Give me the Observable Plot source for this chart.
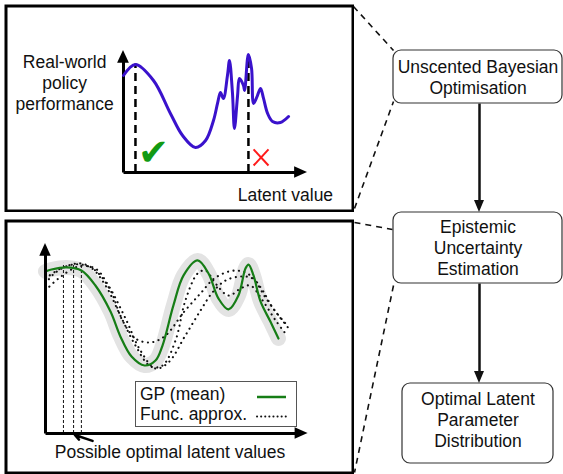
<!DOCTYPE html>
<html><head><meta charset="utf-8">
<script src="https://cdn.jsdelivr.net/npm/d3@7"></script>
<script src="https://cdn.jsdelivr.net/npm/@observablehq/plot@0.6"></script>
<style>
html,body{margin:0;padding:0;background:#fff;}
#root{position:relative;width:563px;height:474px;overflow:hidden;font-family:"Liberation Sans",Arial,sans-serif;}
.layer{position:absolute;}
.layer svg{display:block;}
#legend{position:absolute;left:135px;top:381px;width:162px;height:46px;box-sizing:border-box;border:1.5px solid #555;background:#fff;font-size:17.5px;line-height:20px;padding:1.5px 0 0 4px;color:#111;}
#legend svg{position:absolute;left:0;top:0;}
</style></head><body><div id="root"></div>
<script>
// ---------- data ----------
// top panel: real-world policy performance vs latent value
const topLatent = [0,6.5,16.3,25.5,32.1,39.1,44.6,48.9,51.1,52.7,54.3,56.5,57.6,59.2,60.3,62,63,65.2,65.8,67.4,67.9,69.6,70.7,72.8,74.5,76.1,78.3,81,85.3,89.7];
const topPerf   = [79.5,88.5,75.4,48.4,30.3,20.5,26.2,42.6,56.6,65.6,60.7,79.5,91.8,65.6,36.1,63.1,77,71.3,67.2,93.4,96.7,85.2,56.6,63.1,68.9,60.7,48.4,41.8,41,45.9];
const topCandidates = [6.5, 67.9];
const topCandidateHeights = [89, 94];
const topMarks = ["✔", "✕"];

// bottom panel: GP mean and function approximations
const gpLatent = [0,2.3,8.1,13.8,19.2,25,28.8,33.1,38.1,42.3,45,49.2,53.1,58.5,62.7,66.5,70.4,74.2,76.9,78.1,80,82.7,86.5,89.6];
const gpMean   = [85.3,86.3,87.4,85.8,77.9,64.2,51.1,40.5,35.8,38.4,46.3,67.4,83.2,91.1,84.2,71.1,65.3,72.6,86.8,88.9,83.2,69.5,58.9,50];
const approx1Latent = [0,3.8,10.4,17.3,23.1,28.8,34.6,40.4,45,50,53.8,58.5,61.5,65.4,70.4,75,78.8,83.5,88.5,92.3];
const approx1Value  = [78.9,84.7,88.9,87.4,77.9,62.1,46.3,35.3,35.8,48.9,70,84.2,85.8,78.9,72.6,76.3,77.9,70,59.5,52.6];
const approx2Latent = [0,5.8,13.5,19.2,25,29.6,34.6,40.4,46.2,53.1,59.6,65.4,73.1,78.8,83.5,87.3,92.3];
const approx2Value  = [81.6,86.8,89.5,85.8,75.3,59.5,50,47.9,51.6,63.7,73.7,82.1,85.8,83.2,75.3,66.3,57.9];
const approx3Latent = [0,5,12.7,19.2,24.2,30.8,36.5,42.3,47.3,53.8,59.6,64.2,69.2,75,79.6,84.6,89.6,94.2];
const approx3Value  = [75.3,81.6,87.9,86.8,77.9,60.5,43.7,34.2,37.4,51.6,64.7,74.2,80.5,82.6,81.6,71.6,62.1,54.2];
const optimalCandidates = [6.9, 10.8, 13.8];
const optimalCandidateTop = 89.5;

// text
const topYLabel = "Real-world\npolicy\nperformance";
const topXLabel = "Latent value";
const bottomXLabel = "Possible optimal latent values";
const legendLabels = ["GP (mean)", "Func. approx."];
const flowLabels = ["Unscented Bayesian\nOptimisation", "Epistemic\nUncertainty\nEstimation", "Optimal Latent\nParameter\nDistribution"];

// ---------- build ----------
const FONT = "Liberation Sans, Arial, sans-serif";
const root = document.getElementById("root");
function place(node, left, top) {
  const d = document.createElement("div");
  d.className = "layer";
  d.style.left = left + "px"; d.style.top = top + "px";
  d.appendChild(node); root.appendChild(d);
}

// layout of the flow diagram (pixel layout)
const flowBoxes = flowLabels.map((label, i) => ({label, ...[
  {x1:393, y1:50, x2:562, y2:103, ty:76},
  {x1:393, y1:212, x2:562, y2:283, ty:247},
  {x1:402, y1:383, x2:553, y2:463, ty:419}][i]}));
const flowArrows = [
  {x1:479, y1:103, x2:479, y2:201},
  {x1:479, y1:283, x2:479, y2:372}];
const flowHeads = flowArrows.flatMap((a, i) => [
  {id:i, y:a.y2 - 1, x1:a.x2 - 5, x2:a.x2 + 5},
  {id:i, y:a.y2 + 11, x1:a.x2, x2:a.x2}]);
const connectors = [
  {x1:353, y1:6, x2:393, y2:50},
  {x1:354, y1:208, x2:393, y2:101},
  {x1:354, y1:222, x2:392, y2:229},
  {x1:393, y1:285, x2:354, y2:472}];

const layout = Plot.plot({
  width:563, height:474, margin:0,
  x:{domain:[0,563], range:[0,563], axis:null},
  y:{domain:[0,474], range:[0,474], axis:null},
  style:{background:"transparent", fontFamily:FONT},
  marks:[
    Plot.link(connectors, {x1:"x1", y1:"y1", x2:"x2", y2:"y2", stroke:"#111", strokeWidth:1.6, strokeDasharray:"6,5"}),
    Plot.link(flowArrows, {x1:"x1", y1:"y1", x2:"x2", y2:"y2", stroke:"#111", strokeWidth:2.5}),
    Plot.areaX(flowHeads, {y:"y", x1:"x1", x2:"x2", z:"id", fill:"#111"}),
    Plot.rect(flowBoxes, {x1:"x1", y1:"y1", x2:"x2", y2:"y2", rx:8, fill:"white", stroke:"#333", strokeWidth:1.2}),
    Plot.text(flowBoxes, {x:d => (d.x1 + d.x2) / 2, y:"ty", text:"label", fontSize:17.5, lineHeight:1.2, fill:"#111"})
  ]
});
place(layout, 0, 0);

// ---------- top panel ----------
const topRows = topLatent.map((x, i) => ({x, y:topPerf[i]}));
const topCand = topCandidates.map((x, i) => ({x, top:topCandidateHeights[i]}));
const topPlot = Plot.plot({
  width:350, height:208, margin:1.5,
  x:{domain:[0,100], range:[119,303], axis:null},
  y:{domain:[0,100], range:[168,46], axis:null},
  style:{background:"transparent", fontFamily:FONT},
  marks:[
    Plot.frame({stroke:"black", strokeWidth:3}),
    Plot.ruleX(topCand, {x:"x", y1:0, y2:"top", stroke:"black", strokeWidth:2.5, strokeDasharray:"8,5"}),
    Plot.link([{x1:0, y1:0, x2:0, y2:93}, {x1:0, y1:0, x2:95, y2:0}], {x1:"x1", y1:"y1", x2:"x2", y2:"y2", stroke:"black", strokeWidth:3}),
    Plot.areaX([{y:89.5, x1:-3.2, x2:3.2}, {y:100, x1:0, x2:0}], {y:"y", x1:"x1", x2:"x2", fill:"black"}),
    Plot.areaY([{x:93, y1:-4.8, y2:4.8}, {x:100, y1:0, y2:0}], {x:"x", y1:"y1", y2:"y2", fill:"black"}),
    Plot.line(topRows, {x:"x", y:"y", curve:"catmull-rom", stroke:"#3a12cc", strokeWidth:3}),
    Plot.text([topMarks[0]], {x:16.3, y:15.5, text:d => d, fontSize:37, fill:"#139a13", fontFamily:"DejaVu Sans"}),
    Plot.link([{x1:70.7, y1:18.9, x2:78.8, y2:5.7}, {x1:70.7, y1:5.7, x2:78.8, y2:18.9}], {x1:"x1", y1:"y1", x2:"x2", y2:"y2", stroke:"#ff1a1a", strokeWidth:2}),
    Plot.text([topYLabel], {x:-32, y:74.3, text:d => d, fontSize:17.5, lineHeight:1.2, fill:"#111"}),
    Plot.text([topXLabel], {x:88, y:-18.4, text:d => d, fontSize:17.5, fill:"#111"})
  ]
});
place(topPlot, 4, 4);

// ---------- bottom panel ----------
const gpRows = gpLatent.map((x, i) => ({x, y:gpMean[i]}));
const approxRows = [[approx1Latent, approx1Value], [approx2Latent, approx2Value], [approx3Latent, approx3Value]]
  .flatMap(([xs, ys], id) => xs.map((x, j) => ({id, x, y:ys[j]})));
const bottomPlot = Plot.plot({
  width:350, height:255, margin:1.5,
  x:{domain:[0,100], range:[41,301], axis:null},
  y:{domain:[0,100], range:[214,24], axis:null},
  style:{background:"transparent", fontFamily:FONT},
  marks:[
    Plot.frame({stroke:"black", strokeWidth:3}),
    Plot.line(gpRows, {x:"x", y:"y", curve:"catmull-rom", stroke:"#e3e3e3", strokeWidth:15, strokeLinecap:"round"}),
    Plot.ruleX(optimalCandidates, {x:d => d, y1:0, y2:optimalCandidateTop, stroke:"#111", strokeWidth:1, strokeDasharray:"3,2"}),
    Plot.line(approxRows, {x:"x", y:"y", z:"id", curve:"catmull-rom", stroke:"#111", strokeWidth:2.1, strokeDasharray:"0.1,5.4", strokeLinecap:"round"}),
    Plot.line(gpRows, {x:"x", y:"y", curve:"catmull-rom", stroke:"#167d16", strokeWidth:2.2}),
    Plot.link([{x1:0, y1:0, x2:0, y2:95}, {x1:0, y1:0, x2:97, y2:0}], {x1:"x1", y1:"y1", x2:"x2", y2:"y2", stroke:"black", strokeWidth:3}),
    Plot.areaX([{y:93.3, x1:-2.2, x2:2.2}, {y:100, x1:0, x2:0}], {y:"y", x1:"x1", x2:"x2", fill:"black"}),
    Plot.areaY([{x:96, y1:-3, y2:3}, {x:101, y1:0, y2:0}], {x:"x", y1:"y1", y2:"y2", fill:"black"}),
    Plot.arrow([{x1:18.1, y1:-3.9, x2:11.3, y2:-0.8}], {x1:"x1", y1:"y1", x2:"x2", y2:"y2", stroke:"black", strokeWidth:2.5, headLength:10}),
    Plot.text([bottomXLabel], {x:47.9, y:-10.2, text:d => d, fontSize:17.5, fill:"#111"})
  ]
});
place(bottomPlot, 4, 219);

// ---------- legend ----------
const legend = document.createElement("div");
legend.id = "legend";
legend.innerHTML = legendLabels.map(l => `<div>${l}</div>`).join("") +
  `<svg width="162" height="46"><line x1="121" x2="150" y1="15" y2="15" stroke="#167d16" stroke-width="2.5"/>` +
  `<line x1="121" x2="150" y1="34.5" y2="34.5" stroke="#111" stroke-width="2" stroke-dasharray="0.1,4" stroke-linecap="round"/></svg>`;
root.appendChild(legend);
</script></body></html>
